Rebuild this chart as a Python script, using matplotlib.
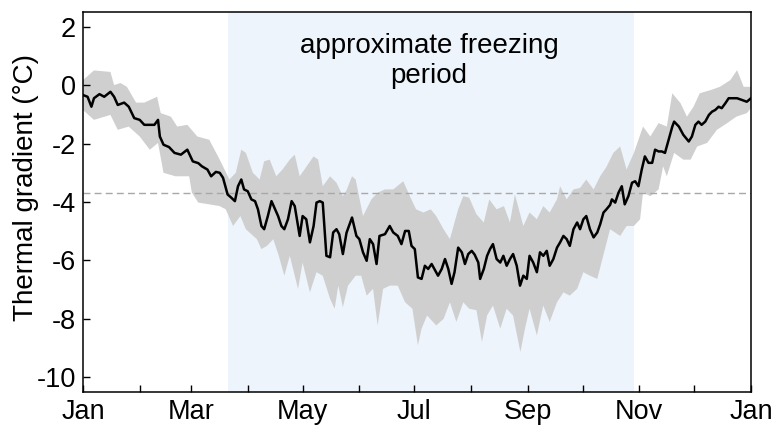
import numpy as np
import matplotlib
matplotlib.use('Agg')
import matplotlib.pyplot as plt

plt.rcParams['font.family'] = ['Liberation Sans', 'DejaVu Sans']
plt.rcParams['axes.unicode_minus'] = False

# daily mean thermal gradient (day of year, degC)
line_days = [0, 2.5, 4.6, 6, 9, 11.6, 15, 17, 19, 22.5, 25, 28, 31, 33.5, 36, 39, 41, 42, 44, 47,
             50, 53.5, 57, 60, 63, 65, 68, 70, 72.6, 74.7, 76.5, 79, 81, 83, 84.7, 86.5, 88, 90, 92, 94,
             95.6, 97.5, 99, 101, 103, 105, 106.6, 108.4, 110, 112, 114, 115.7, 117.5, 118.4, 120, 122,
             124, 126, 127.6, 129.4, 131, 133, 135, 136.7, 138.5, 140, 142, 144, 146, 147, 149.4, 151,
             153, 155, 156.7, 158.5, 160.4, 162, 165, 167.6, 169.5, 172, 174, 176, 178, 179.5, 181.3,
             183, 185, 186.8, 188.6, 190.5, 192, 194, 196, 197.8, 199.6, 201.4, 203, 205, 207, 208.7,
             210.5, 212.4, 214, 216, 217, 219, 220.8, 222.4, 224, 226, 228, 229.7, 231.5, 233.3, 235,
             237, 238.8, 240.6, 242.5, 244, 246, 248, 249.7, 251.5, 253.4, 255, 257, 259, 260.7, 262.5,
             264.3, 266, 268, 270, 271.6, 273.4, 275, 277, 279, 281, 282.6, 284.4, 286, 288, 289, 290.8,
             292.6, 294.4, 296, 298, 300, 301.7, 303.5, 305.3, 307, 309, 311, 312.6, 314.5, 316.3, 318,
             320, 322, 323, 325.6, 328, 331, 332.7, 334.6, 336.3, 338, 340, 342, 343.7, 345.5, 347.3,
             349, 351, 352.8, 354.6, 357.4, 360, 362.7, 365]
line_vals = [-0.34, -0.40, -0.74, -0.45, -0.31, -0.40, -0.23, -0.40, -0.68, -0.60, -0.74, -1.13, -1.19,
             -1.36, -1.36, -1.36, -1.19, -1.76, -2.04, -2.12, -2.32, -2.38, -2.21, -2.61, -2.67, -2.78,
             -2.89, -3.12, -2.97, -3.00, -3.17, -3.74, -3.85, -3.97, -3.46, -3.23, -3.57, -3.63, -3.91,
             -3.97, -4.25, -4.82, -4.93, -4.48, -3.97, -4.25, -4.48, -4.82, -4.93, -4.59, -3.97, -4.14,
             -4.82, -5.16, -4.48, -4.59, -5.38, -4.82, -4.02, -3.97, -4.02, -5.84, -5.89, -5.04, -4.93,
             -5.10, -5.78, -5.05, -4.70, -4.53, -5.16, -5.27, -5.72, -6.01, -5.27, -5.44, -6.12, -5.16,
             -5.10, -4.82, -5.04, -5.16, -5.44, -4.99, -4.99, -5.50, -5.61, -6.58, -6.63, -6.18, -6.29,
             -6.12, -6.29, -6.52, -6.29, -5.95, -6.29, -6.80, -6.40, -5.56, -5.72, -6.12, -5.78, -5.67,
             -5.80, -6.07, -6.63, -6.29, -5.84, -5.61, -5.44, -5.95, -6.07, -5.84, -6.18, -5.95, -5.78,
             -6.18, -6.86, -6.52, -6.63, -5.84, -6.07, -6.40, -5.72, -5.84, -5.67, -6.18, -5.95, -5.56,
             -5.38, -5.16, -5.27, -5.50, -4.93, -4.70, -4.93, -4.59, -4.48, -4.93, -5.21, -5.04, -4.76,
             -4.36, -4.25, -4.10, -3.91, -4.02, -3.68, -3.46, -4.08, -3.80, -3.34, -3.29, -3.46, -2.89,
             -2.44, -2.66, -2.66, -2.21, -2.27, -2.27, -2.32, -1.87, -1.42, -1.25, -1.42, -1.70, -1.93,
             -1.76, -1.36, -1.25, -1.36, -1.25, -1.02, -0.91, -0.85, -0.74, -0.79, -0.62, -0.45, -0.45,
             -0.45, -0.51, -0.57, -0.45]

# upper and lower edge of the spread
upper_days = [0, 6, 15, 17, 20.5, 24, 29, 33.5, 40.5, 42.5, 48, 51.5, 57, 62.5, 69, 74.7, 80, 83.5,
              86.5, 89, 92.8, 96.5, 99, 102, 105.6, 109, 113, 115.7, 118.4, 121, 126, 128.5, 131, 135,
              138.5, 142, 144, 147, 149, 153, 157.6, 161, 165, 169.5, 175, 178.6, 182, 186, 190, 193,
              197, 200.5, 205, 207.8, 211, 215, 219, 222, 226, 230, 233.3, 236, 240.6, 244, 248, 251.5,
              255, 259, 260.7, 264.3, 268, 271.6, 275, 279, 282.6, 286, 289.8, 293.5, 297, 301, 306,
              310, 314.5, 319, 322, 326.5, 330, 333.6, 337, 343, 348, 353.7, 357.4, 361, 365]
upper_vals = [0.17, 0.50, 0.45, 0.0, 0.07, -0.06, -0.60, -0.60, -0.40, -0.96, -1.08, -1.42, -1.36,
              -1.76, -1.87, -2.55, -3.23, -3.00, -2.21, -2.32, -3.00, -3.23, -2.61, -2.55, -3.12, -2.89,
              -2.55, -2.38, -3.12, -2.89, -2.44, -2.55, -3.46, -3.12, -3.34, -3.80, -3.60, -3.12, -3.23,
              -4.48, -3.91, -3.68, -3.57, -3.57, -3.29, -3.80, -4.25, -4.36, -4.25, -4.48, -4.93, -5.27,
              -4.25, -3.80, -3.85, -4.42, -4.70, -3.91, -4.25, -4.14, -4.70, -3.74, -4.82, -4.36, -4.59,
              -4.14, -4.36, -3.91, -3.46, -3.91, -3.57, -3.52, -3.23, -3.57, -3.12, -2.80, -2.32, -2.10,
              -2.89, -2.32, -1.42, -1.76, -1.30, -1.42, -0.28, -0.62, -1.08, -0.74, -0.28, -0.17, -0.06,
              0.17, 0.51, -0.06, -0.06]
lower_days = [0, 6, 15, 19, 25, 31, 36.5, 41, 44, 50.5, 58, 59.5, 63, 69, 74.7, 78, 82, 86, 89, 95,
              97.5, 100.5, 104, 107, 110, 113, 117.5, 120, 124, 127.6, 131, 135, 137.5, 139.5, 142,
              144.8, 149, 152, 155, 158.5, 161, 164, 167.6, 172, 176, 180, 183, 185, 188, 193, 197,
              200.5, 204, 207.8, 211, 215, 218, 220.8, 224, 228, 231.5, 235, 239, 241.5, 244, 248,
              251.5, 255, 259, 262.5, 266, 270, 273.4, 277, 281, 284.4, 288, 293.5, 297, 301, 304.4,
              306, 310, 314.5, 317, 319, 323, 328, 332, 335.6, 341, 346.4, 352, 357, 362.7, 365]
lower_vals = [-0.85, -1.19, -1.02, -1.53, -1.42, -1.76, -2.21, -1.98, -3.00, -3.12, -3.12, -3.68,
              -4.02, -4.08, -4.14, -4.25, -4.82, -4.48, -4.93, -5.27, -5.61, -5.50, -5.27, -5.84, -6.52,
              -5.84, -6.97, -6.07, -7.09, -6.40, -6.52, -7.31, -7.65, -6.86, -7.60, -6.86, -6.52, -6.52,
              -7.20, -6.97, -8.22, -6.97, -6.86, -6.86, -7.43, -7.65, -8.90, -8.33, -7.88, -8.22, -8.00,
              -7.43, -8.10, -7.43, -7.65, -7.70, -8.79, -7.88, -7.54, -8.33, -7.65, -7.88, -9.13, -8.33,
              -7.65, -8.56, -7.54, -8.10, -7.43, -7.09, -7.20, -6.97, -6.40, -6.52, -6.63, -5.80, -4.93,
              -5.16, -4.82, -4.82, -4.59, -3.68, -3.80, -3.57, -2.78, -3.12, -2.32, -2.55, -2.55, -2.10,
              -1.98, -1.53, -1.30, -1.08, -0.96, -0.79]

month_starts = [0, 31, 59, 90, 120, 151, 181, 212, 243, 273, 304, 334, 365]
month_labels = ['Jan', '', 'Mar', '', 'May', '', 'Jul', '', 'Sep', '', 'Nov', '', 'Jan']

freeze_start = 79
freeze_end = 301
threshold = -3.7


def plot_gradient(out_name):
    fig = plt.figure(figsize=(7.72, 4.28), dpi=100)
    ax = fig.add_axes([0.1075, 0.084, 0.8653, 0.888])

    ax.axvspan(freeze_start, freeze_end, color='#edf4fc', lw=0, zorder=0)

    band_x = np.concatenate([upper_days, lower_days[::-1]])
    band_y = np.concatenate([upper_vals, lower_vals[::-1]])
    ax.fill(band_x, band_y, color='#cfcfcf', lw=0, zorder=1)

    ax.axhline(threshold, color='#a8a8a8', lw=1.0, ls=(0, (5, 3)), zorder=2)
    ax.plot(line_days, line_vals, color='black', lw=1.8, zorder=3)

    ax.text(189, 0.82, 'approximate freezing\nperiod', ha='center', va='center',
            fontsize=20, linespacing=1.2)

    ax.set_xlim(0, 365)
    ax.set_ylim(-10.5, 2.5)
    ax.set_xticks(month_starts)
    ax.set_xticklabels(month_labels)
    ax.set_yticks([2, 0, -2, -4, -6, -8, -10])
    ax.set_ylabel('Thermal gradient (\u00b0C)', fontsize=20)
    ax.yaxis.set_label_coords(-0.066, 0.538)
    ax.tick_params(direction='in', length=5, width=1, labelsize=19.5, pad=5)
    for sp in ax.spines.values():
        sp.set_linewidth(1.1)

    fig.savefig(out_name, dpi=100)


plot_gradient('out.png')
